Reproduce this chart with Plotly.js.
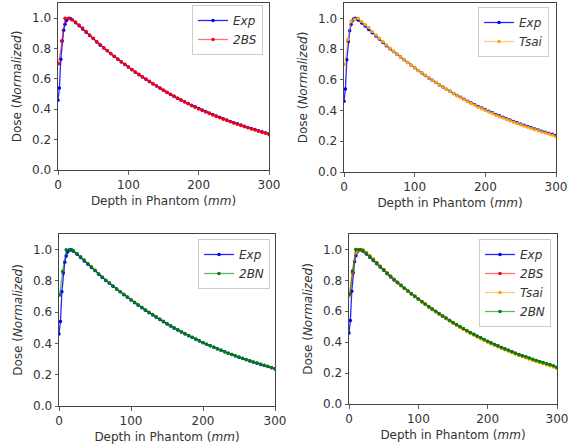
<!DOCTYPE html>
<html><head><meta charset="utf-8">
<script src="https://cdn.plot.ly/plotly-3.0.1.min.js"></script>
<style>html,body{margin:0;padding:0;background:#fff}#c{width:574px;height:445px}</style>
</head><body><div id="c"></div>
<script>
const expDepth = [0,2,4,6,8,10,12,14,16,18,20,25,30,35,40,45,50,55,60,65,70,75,80,85,90,95,100,105,110,115,120,125,130,135,140,145,150,155,160,165,170,175,180,185,190,195,200,205,210,215,220,225,230,235,240,245,250,255,260,265,270,275,280,285,290,295,300];
const expDose = [0.46,0.54,0.73,0.85,0.92,0.96,0.985,0.997,1.0,0.997,0.99,0.97,0.95,0.928,0.907,0.886,0.866,0.843,0.822,0.803,0.785,0.766,0.748,0.73,0.712,0.695,0.678,0.661,0.644,0.628,0.612,0.597,0.582,0.567,0.553,0.539,0.525,0.511,0.498,0.486,0.473,0.461,0.449,0.438,0.427,0.416,0.405,0.395,0.385,0.375,0.366,0.356,0.347,0.338,0.329,0.32,0.312,0.304,0.296,0.288,0.28,0.273,0.266,0.259,0.252,0.245,0.238];

const modelDepth = [1,5,10,15,20,25,30,35,40,45,50,55,60,65,70,75,80,85,90,95,100,105,110,115,120,125,130,135,140,145,150,155,160,165,170,175,180,185,190,195,200,205,210,215,220,225,230,235,240,245,250,255,260,265,270,275,280,285,290,295,300];
const bsDose = [0.70,0.85,1.0,0.998,0.99,0.975,0.955,0.935,0.912,0.89,0.868,0.847,0.826,0.806,0.787,0.768,0.749,0.731,0.713,0.696,0.679,0.662,0.646,0.63,0.614,0.599,0.584,0.569,0.555,0.54,0.526,0.512,0.499,0.486,0.473,0.46,0.448,0.436,0.424,0.413,0.402,0.392,0.382,0.372,0.362,0.353,0.344,0.335,0.326,0.317,0.309,0.301,0.293,0.285,0.278,0.27,0.263,0.256,0.249,0.242,0.233];
const tsaiDose = [0.70,0.86,0.98,0.995,1.0,0.98,0.96,0.94,0.915,0.892,0.87,0.848,0.826,0.806,0.786,0.767,0.748,0.73,0.712,0.695,0.678,0.661,0.645,0.629,0.613,0.597,0.582,0.567,0.553,0.538,0.524,0.51,0.497,0.484,0.471,0.458,0.446,0.434,0.422,0.411,0.4,0.39,0.38,0.37,0.36,0.351,0.342,0.333,0.324,0.315,0.307,0.299,0.291,0.283,0.275,0.268,0.261,0.254,0.247,0.24,0.229];
const bnDose = [0.71,0.86,1.0,0.998,0.993,0.975,0.955,0.934,0.912,0.89,0.868,0.846,0.825,0.805,0.786,0.767,0.749,0.731,0.714,0.697,0.68,0.663,0.647,0.631,0.615,0.6,0.585,0.57,0.556,0.542,0.528,0.514,0.501,0.488,0.475,0.463,0.451,0.439,0.428,0.417,0.406,0.395,0.385,0.375,0.365,0.356,0.347,0.338,0.329,0.321,0.313,0.305,0.297,0.29,0.282,0.275,0.268,0.261,0.254,0.247,0.236];

const xTicks = [0,100,200,300];
const yTicks = [0,0.2,0.4,0.6,0.8,1.0];
const yTickText = ['0.0','0.2','0.4','0.6','0.8','1.0'];

const W = 574, H = 445;
const panels = [
  {box:[58,269,3,170], leg:[263,5], series:['bs']},
  {box:[344,556,3,172], leg:[549,7], series:['tsai']},
  {box:[59,275,234,406], leg:[270,239], series:['bn']},
  {box:[349,557,234,404], leg:[551,239], series:['bs','tsai','bn']}
];
const defs = {
  exp:{name:'<i>Exp</i>', x:expDepth, y:expDose, line:'rgba(0,0,255,0.85)', mk:'#0000ff'},
  bs:{name:'<i>2BS</i>', x:modelDepth, y:bsDose, line:'rgba(255,0,0,0.55)', mk:'#ff0000'},
  tsai:{name:'<i>Tsai</i>', x:modelDepth, y:tsaiDose, line:'rgba(255,165,0,0.55)', mk:'#ffa500'},
  bn:{name:'<i>2BN</i>', x:modelDepth, y:bnDose, line:'rgba(0,128,0,0.6)', mk:'#008000'}
};
const txt = {family:'DejaVu Sans', size:12, color:'#333'};
const traces = [];
const layout = {width:W, height:H, margin:{l:0,r:0,t:0,b:0}, paper_bgcolor:'#fff', plot_bgcolor:'#fff', font:txt, showlegend:true};
panels.forEach((p,i)=>{
  const n = i===0 ? '' : String(i+1);
  const legName = 'legend'+n;
  ['exp'].concat(p.series).forEach(k=>{
    const d = defs[k];
    traces.push({type:'scatter', mode:'lines+markers', x:d.x, y:d.y, name:d.name,
      xaxis:'x'+n, yaxis:'y'+n, legend:legName,
      line:{color:d.line, width:1.3}, marker:{color:d.mk, size:3.5}});
  });
  const [x0,x1,y0,y1] = p.box;
  layout['xaxis'+n] = {domain:[x0/W, x1/W], range:[0,300], anchor:'y'+n,
    tickvals:xTicks, ticks:'outside', ticklen:3.5, tickwidth:0.8, tickcolor:'#333',
    showline:true, mirror:true, linecolor:'#444', linewidth:1, showgrid:false, zeroline:false,
    tickfont:txt, title:{text:'Depth in Phantom (<i>mm</i>)', font:txt, standoff:5}};
  layout['yaxis'+n] = {domain:[1-y1/H, 1-y0/H], range:[0,1.1], anchor:'x'+n,
    tickvals:yTicks, ticktext:yTickText, ticks:'outside', ticklen:3.5, tickwidth:0.8, tickcolor:'#333',
    showline:true, mirror:true, linecolor:'#444', linewidth:1, showgrid:false, zeroline:false,
    tickfont:txt, title:{text:'Dose (<i>Normalized</i>)', font:txt, standoff:7}};
  layout[legName] = {x:p.leg[0]/W, y:1-p.leg[1]/H, xanchor:'right', yanchor:'top',
    bgcolor:'rgba(255,255,255,0.85)', bordercolor:'#ccc', borderwidth:1,
    font:txt, itemwidth:30, tracegroupgap:0};
});
Plotly.newPlot('c', traces, layout, {staticPlot:true});
</script></body></html>
